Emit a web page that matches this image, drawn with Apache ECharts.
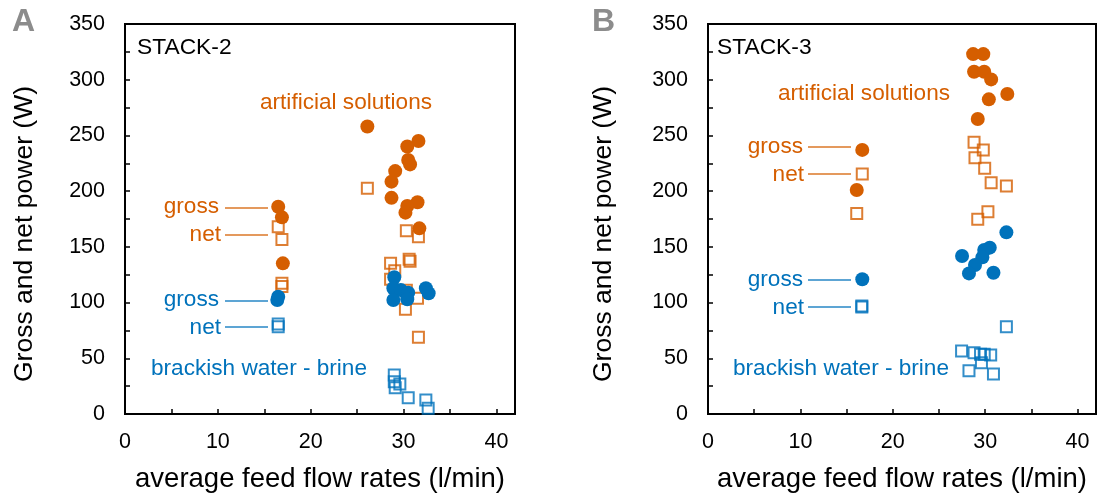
<!DOCTYPE html>
<html>
<head>
<meta charset="utf-8">
<script src="https://cdn.jsdelivr.net/npm/echarts@6/dist/echarts.min.js"></script>
<style>
html,body{margin:0;padding:0;background:#fff;}
#chart{width:1097px;height:495px;}
</style>
</head>
<body>
<div id="chart"></div>
<script>
// ---- Data (x: average feed flow rate l/min, y: power W) ----
const A_orangeGross = [[26.1,258],[31.6,245],[30.4,240],[30.5,228],[30.7,224],[29.1,218],[28.7,208.5],[28.7,194],[31.5,190],[30.4,186.7],[30.2,180.7],[31.7,166.6],[16.5,186],[16.9,176.5],[17.0,135.2]];
const A_orangeNet = [[26.1,202.5],[16.5,168],[16.9,156.7],[16.9,117.3],[16.9,114.5],[30.3,164.5],[31.6,159],[30.6,138.8],[30.7,137],[28.6,135.2],[29.05,128.6],[28.6,120.9],[30.3,111],[31.5,103.8],[30.2,94],[31.6,68.8]];
const A_blueGross = [[29.0,122.7],[28.9,112.8],[29.7,111.3],[30.5,108.9],[28.9,102.3],[30.4,103],[32.4,112.8],[32.7,108.3],[16.5,105.3],[16.4,102.3]];
const A_blueNet = [[16.5,80.8],[16.5,78.3],[29.0,35],[29.0,29],[29.6,27],[29.1,23.6],[30.5,14.6],[32.4,12.6],[32.65,5.1]];

const B_orangeGross = [[28.7,323],[29.8,323],[28.8,307.2],[29.9,307.2],[30.65,300.3],[32.4,287.2],[30.4,282.4],[29.2,264.7],[16.7,237],[16.1,201]];
const B_orangeNet = [[28.8,243.8],[29.8,236.9],[28.9,230],[29.95,220.5],[30.65,207.6],[32.3,204.6],[30.3,181.6],[29.2,174.7],[16.7,215.4],[16.1,180]];
const B_blueGross = [[32.3,163],[30.5,149.3],[29.9,147.2],[29.7,140.6],[27.5,141.8],[28.9,133.7],[28.25,126.2],[30.9,126.8],[16.7,120.9]];
const B_blueNet = [[32.3,78.4],[27.45,56.5],[28.8,55],[29.5,53.6],[29.9,53.6],[30.6,53],[28.25,38.9],[29.6,46],[30.9,35.9],[16.65,97],[16.65,96]];

const xTickLabels = [0,10,20,30,40];
const yTickLabels = [0,50,100,150,200,250,300,350];

const ORANGE = '#D55E00';
const BLUE = '#0072BB';
const FONT = '"Liberation Sans", Arial, sans-serif';

function xAxis(gi){
  return {
    type:'value', gridIndex:gi, min:0, max:42, interval:5,
    name:'average feed flow rates (l/min)', nameLocation:'middle', nameGap:51,
    nameTextStyle:{fontFamily:FONT,fontSize:27.5,color:'#000'},
    axisLine:{show:true,lineStyle:{color:'#000',width:2}},
    axisTick:{show:true,inside:true,length:5,lineStyle:{color:'#000',width:1.5}},
    splitLine:{show:false},
    axisLabel:{fontFamily:FONT,fontSize:21.5,color:'#000',margin:17,showMaxLabel:false,
      formatter:v=>xTickLabels.indexOf(v)>=0?String(v):''}
  };
}
function yAxis(gi,gap){
  return {
    type:'value', gridIndex:gi, min:0, max:350, interval:25,
    name:'Gross and net power (W)', nameLocation:'middle', nameGap:gap,
    nameTextStyle:{fontFamily:FONT,fontSize:26.5,color:'#000',padding:[0,30,0,0]},
    axisLine:{show:true,lineStyle:{color:'#000',width:2}},
    axisTick:{show:true,inside:true,length:5,lineStyle:{color:'#000',width:1.5}},
    splitLine:{show:false},
    axisLabel:{fontFamily:FONT,fontSize:21.5,color:'#000',margin:20,
      formatter:v=>yTickLabels.indexOf(v)>=0?String(v):''}
  };
}
function sq(data,color,gi){
  return {type:'scatter',xAxisIndex:gi,yAxisIndex:gi,data:data,symbol:'rect',symbolSize:11,
    itemStyle:{color:'rgba(255,255,255,0)',borderColor:color,borderWidth:2},z:2,silent:true};
}
function ci(data,color,gi){
  return {type:'scatter',xAxisIndex:gi,yAxisIndex:gi,data:data,symbol:'circle',symbolSize:14,
    itemStyle:{color:color,opacity:1},z:3,silent:true};
}
function txt(x,y,t,color,align,size,weight){
  return {type:'text',x:x,y:y,z:10,style:{text:t,fill:color,
    font:(weight||'normal')+' '+(size||22.6)+'px '+FONT,
    align:align||'left',verticalAlign:'middle',textAlign:align||'left',textVerticalAlign:'middle'}};
}
function ln(x1,x2,y,color){
  return {type:'line',z:10,shape:{x1:x1,y1:y,x2:x2,y2:y},style:{stroke:color,lineWidth:1.3,opacity:0.85}};
}

const chart = echarts.init(document.getElementById('chart'),null,{renderer:'canvas'});
chart.setOption({
  animation:false,
  backgroundColor:'#fff',
  grid:[
    {left:125,top:24,width:390,height:390,show:true,borderColor:'#000',borderWidth:2,backgroundColor:'transparent',containLabel:false,outerBoundsMode:'none'},
    {left:708,top:24,width:388,height:390,show:true,borderColor:'#000',borderWidth:2,backgroundColor:'transparent',containLabel:false,outerBoundsMode:'none'}
  ],
  xAxis:[xAxis(0),xAxis(1)],
  yAxis:[yAxis(0,87),yAxis(1,91)],
  series:[
    sq(A_orangeNet,ORANGE,0), sq(A_blueNet,BLUE,0), ci(A_orangeGross,ORANGE,0), ci(A_blueGross,BLUE,0),
    sq(B_orangeNet,ORANGE,1), sq(B_blueNet,BLUE,1), ci(B_orangeGross,ORANGE,1), ci(B_blueGross,BLUE,1)
  ],
  graphic:[
    txt(12,22,'A','#8c8c8c','left',32,'bold'),
    txt(592,22,'B','#8c8c8c','left',32,'bold'),
    // panel A
    txt(137,48,'STACK-2','#000','left',22.8),
    txt(260,103,'artificial solutions',ORANGE),
    txt(219,207,'gross',ORANGE,'right'), ln(225,268,208,ORANGE),
    txt(221,235,'net',ORANGE,'right'), ln(225,268,235,ORANGE),
    txt(219,300,'gross',BLUE,'right'), ln(225,268,301,BLUE),
    txt(221,328,'net',BLUE,'right'), ln(225,268,327,BLUE),
    txt(151,369,'brackish water - brine',BLUE),
    // panel B
    txt(717,48,'STACK-3','#000','left',22.8),
    txt(778,94,'artificial solutions',ORANGE),
    txt(803,147,'gross',ORANGE,'right'), ln(808,851,147,ORANGE),
    txt(804,175,'net',ORANGE,'right'), ln(808,851,174,ORANGE),
    txt(803,280,'gross',BLUE,'right'), ln(808,851,280,BLUE),
    txt(804,308,'net',BLUE,'right'), ln(808,851,307,BLUE),
    txt(733,369,'brackish water - brine',BLUE)
  ]
});
</script>
</body>
</html>
